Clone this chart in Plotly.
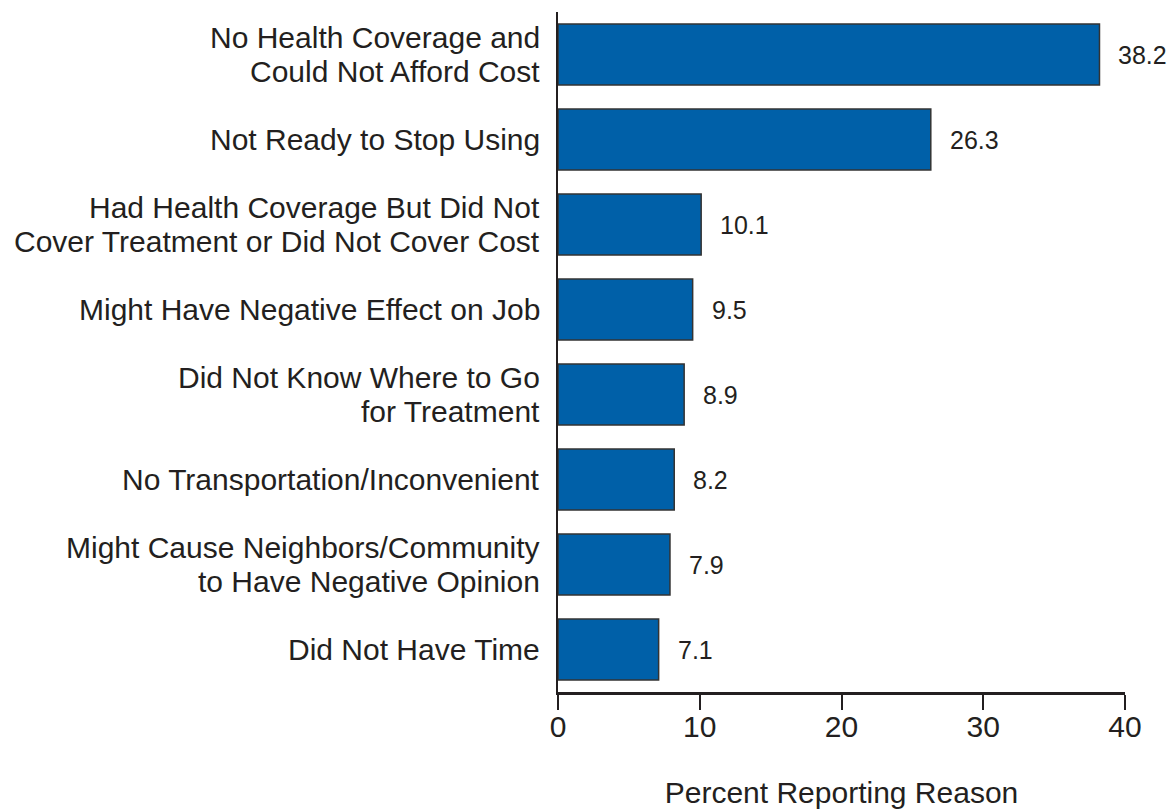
import plotly.graph_objects as go

categories = [
    "No Health Coverage and<br>Could Not Afford Cost",
    "Not Ready to Stop Using",
    "Had Health Coverage But Did Not<br>Cover Treatment or Did Not Cover Cost",
    "Might Have Negative Effect on Job",
    "Did Not Know Where to Go<br>for Treatment",
    "No Transportation/Inconvenient",
    "Might Cause Neighbors/Community<br>to Have Negative Opinion",
    "Did Not Have Time",
]
values = [38.2, 26.3, 10.1, 9.5, 8.9, 8.2, 7.9, 7.1]
x_ticks = [0, 10, 20, 30, 40]
x_title = "Percent Reporting Reason"

TEXT = "#231F20"
FONT = "Liberation Sans, Arial, sans-serif"
LINE_PITCH = 34

fig = go.Figure()
fig.add_trace(go.Bar(
    x=values,
    y=categories,
    orientation="h",
    width=0.72,
    marker=dict(color="#0060A8", line=dict(color="#333333", width=1.5)),
    hoverinfo="skip",
))

# value labels
for c, v in zip(categories, values):
    fig.add_annotation(
        x=v, y=c, text=f"{v:.1f}", showarrow=False,
        xanchor="left", yanchor="middle", xshift=17,
        font=dict(family=FONT, size=25, color=TEXT),
    )

# category labels (line by line for tighter leading)
for c in categories:
    lines = c.split("<br>")
    n = len(lines)
    for i, ln in enumerate(lines):
        fig.add_annotation(
            x=0, xref="paper", y=c, yref="y", text=ln, showarrow=False,
            xanchor="right", yanchor="middle", xshift=-16,
            yshift=((n - 1) / 2 - i) * LINE_PITCH,
            font=dict(family=FONT, size=30, color=TEXT),
        )

fig.update_layout(
    width=1169, height=809,
    margin=dict(l=558, r=44, t=12, b=117, autoexpand=False),
    paper_bgcolor="white", plot_bgcolor="white",
    showlegend=False,
    font=dict(family=FONT, color=TEXT),
)
fig.update_xaxes(
    range=[0, 40], tickvals=x_ticks, ticktext=[str(t) for t in x_ticks],
    showgrid=False, zeroline=False, automargin=False,
    showline=True, linecolor=TEXT, linewidth=2.5,
    ticks="outside", ticklen=15, tickwidth=2, tickcolor=TEXT,
    ticklabelstandoff=-9,
    tickfont=dict(family=FONT, size=30, color=TEXT),
    title=dict(text=x_title, font=dict(family=FONT, size=30, color=TEXT), standoff=50),
)
fig.update_yaxes(
    autorange=False, range=[len(categories) - 0.5, -0.5],
    categoryorder="array", categoryarray=categories,
    showgrid=False, zeroline=False, automargin=False,
    showline=True, linecolor=TEXT, linewidth=2,
    ticks="", showticklabels=False,
)

fig.write_html(
    "out.html",
    config={"displayModeBar": False},
    post_script=(
        "document.documentElement.style.margin='0';"
        "document.body.style.margin='0';"
        "document.documentElement.style.overflow='hidden';"
        "document.body.style.overflow='hidden';"
    ),
)
